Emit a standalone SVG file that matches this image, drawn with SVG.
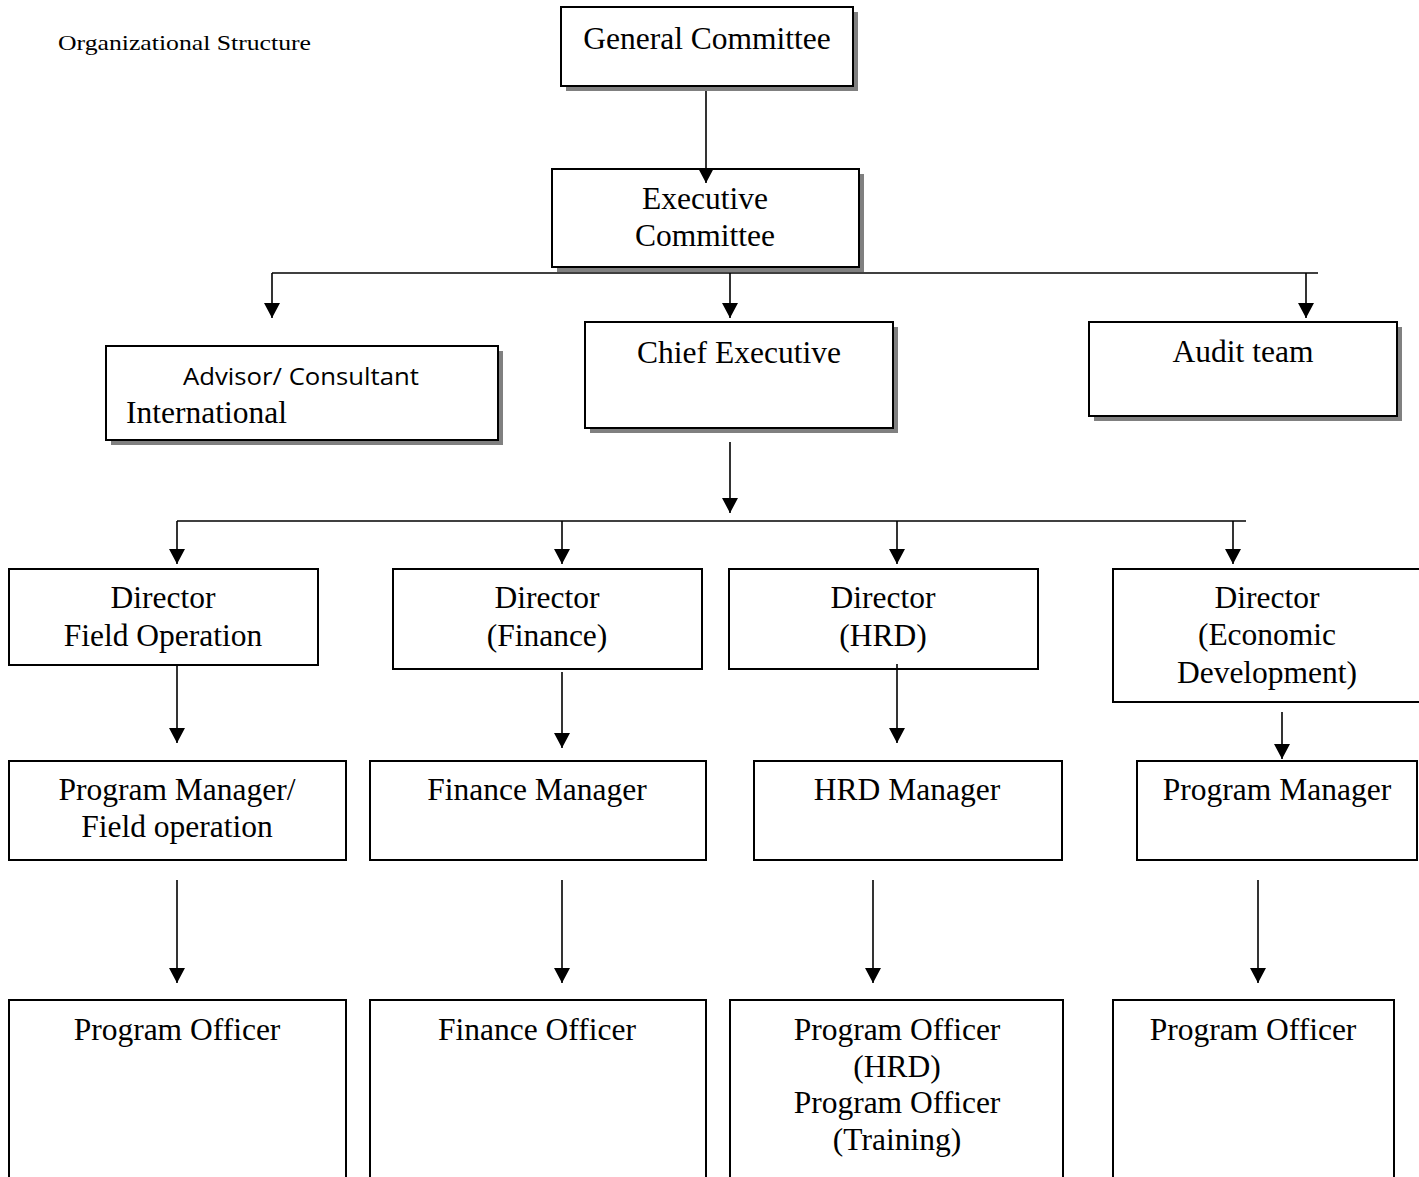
<svg xmlns="http://www.w3.org/2000/svg" width="1419" height="1177" viewBox="0 0 1419 1177">
<defs>
<style>
.box{fill:#fff;stroke:#000;stroke-width:2}
.sh{fill:#808080}
.t{font-family:"Liberation Serif","Times New Roman",serif;font-size:31.5px;fill:#000;text-anchor:middle}
.c{stroke:#000;stroke-width:1.6;fill:none}
</style>
<marker id="ah" markerUnits="userSpaceOnUse" viewBox="0 0 15 16" refX="15" refY="8" markerWidth="15" markerHeight="16" orient="auto">
<path d="M0,0 L15,8 L0,16 Z" fill="#000"/>
</marker>
</defs>
<rect width="1419" height="1177" fill="#fff"/>
<text x="58" y="50" font-family="'Liberation Serif','Times New Roman',serif" font-size="22" textLength="253" lengthAdjust="spacingAndGlyphs">Organizational Structure</text>

<g id="general-committee">
<rect class="sh" x="566" y="12" width="292" height="79"/>
<rect class="box" x="561" y="7" width="292" height="79"/>
<text class="t" x="707" y="49">General Committee</text>
</g>

<g id="executive-committee">
<rect class="sh" x="557" y="174" width="307" height="98"/>
<rect class="box" x="552" y="169" width="307" height="98"/>
<text class="t" x="705" y="209">Executive</text>
<text class="t" x="705" y="246">Committee</text>
</g>

<g id="advisor">
<rect class="sh" x="111" y="351" width="392" height="94"/>
<rect class="box" x="106" y="346" width="392" height="94"/>
<text x="183" y="385" font-family="'Open Sans','Liberation Sans',sans-serif" font-size="24" textLength="236" lengthAdjust="spacingAndGlyphs">Advisor/ Consultant</text>
<text class="t" x="126" y="423" style="text-anchor:start">International</text>
</g>

<g id="chief-executive">
<rect class="sh" x="590" y="327" width="308" height="106"/>
<rect class="box" x="585" y="322" width="308" height="106"/>
<text class="t" x="739" y="363">Chief Executive</text>
</g>

<g id="audit-team">
<rect class="sh" x="1094" y="327" width="308" height="94"/>
<rect class="box" x="1089" y="322" width="308" height="94"/>
<text class="t" x="1243" y="362">Audit team</text>
</g>

<g id="director-field">
<rect class="box" x="9" y="569" width="309" height="96"/>
<text class="t" x="163" y="608">Director</text>
<text class="t" x="163" y="646">Field Operation</text>
</g>

<g id="director-finance">
<rect class="box" x="393" y="569" width="309" height="100"/>
<text class="t" x="547" y="608">Director</text>
<text class="t" x="547" y="646">(Finance)</text>
</g>

<g id="director-hrd">
<rect class="box" x="729" y="569" width="309" height="100"/>
<text class="t" x="883" y="608">Director</text>
<text class="t" x="883" y="646">(HRD)</text>
</g>

<g id="director-economic">
<rect class="box" x="1113" y="569" width="312" height="133"/>
<text class="t" x="1267" y="608">Director</text>
<text class="t" x="1267" y="645">(Economic</text>
<text class="t" x="1267" y="683">Development)</text>
</g>

<g id="pm-field">
<rect class="box" x="9" y="761" width="337" height="99"/>
<text class="t" x="177" y="800">Program Manager/</text>
<text class="t" x="177" y="837">Field operation</text>
</g>

<g id="finance-manager">
<rect class="box" x="370" y="761" width="336" height="99"/>
<text class="t" x="537" y="800">Finance Manager</text>
</g>

<g id="hrd-manager">
<rect class="box" x="754" y="761" width="308" height="99"/>
<text class="t" x="907" y="800">HRD Manager</text>
</g>

<g id="program-manager">
<rect class="box" x="1137" y="761" width="280" height="99"/>
<text class="t" x="1277" y="800">Program Manager</text>
</g>

<g id="program-officer-field">
<rect class="box" x="9" y="1000" width="337" height="200"/>
<text class="t" x="177" y="1040">Program Officer</text>
</g>

<g id="finance-officer">
<rect class="box" x="370" y="1000" width="336" height="200"/>
<text class="t" x="537" y="1040">Finance Officer</text>
</g>

<g id="program-officer-hrd">
<rect class="box" x="730" y="1000" width="333" height="200"/>
<text class="t" x="897" y="1040">Program Officer</text>
<text class="t" x="897" y="1077">(HRD)</text>
<text class="t" x="897" y="1113">Program Officer</text>
<text class="t" x="897" y="1150">(Training)</text>
</g>

<g id="program-officer-econ">
<rect class="box" x="1113" y="1000" width="281" height="200"/>
<text class="t" x="1253" y="1040">Program Officer</text>
</g>

<g id="connectors">
<path class="c" d="M706,91 V183" marker-end="url(#ah)"/>
<line class="c" x1="272" y1="273" x2="1318" y2="273"/>
<path class="c" d="M272,273 V318" marker-end="url(#ah)"/>
<path class="c" d="M730,273 V318" marker-end="url(#ah)"/>
<path class="c" d="M1306,273 V318" marker-end="url(#ah)"/>
<path class="c" d="M730,442 V513" marker-end="url(#ah)"/>
<line class="c" x1="177" y1="521" x2="1246" y2="521"/>
<path class="c" d="M177,521 V564" marker-end="url(#ah)"/>
<path class="c" d="M562,521 V564" marker-end="url(#ah)"/>
<path class="c" d="M897,521 V564" marker-end="url(#ah)"/>
<path class="c" d="M1233,521 V564" marker-end="url(#ah)"/>
<path class="c" d="M177,665 V743" marker-end="url(#ah)"/>
<path class="c" d="M562,672 V748" marker-end="url(#ah)"/>
<path class="c" d="M897,664 V743" marker-end="url(#ah)"/>
<path class="c" d="M1282,712 V759" marker-end="url(#ah)"/>
<path class="c" d="M177,880 V983" marker-end="url(#ah)"/>
<path class="c" d="M562,880 V983" marker-end="url(#ah)"/>
<path class="c" d="M873,880 V983" marker-end="url(#ah)"/>
<path class="c" d="M1258,880 V983" marker-end="url(#ah)"/>
</g>
</svg>
